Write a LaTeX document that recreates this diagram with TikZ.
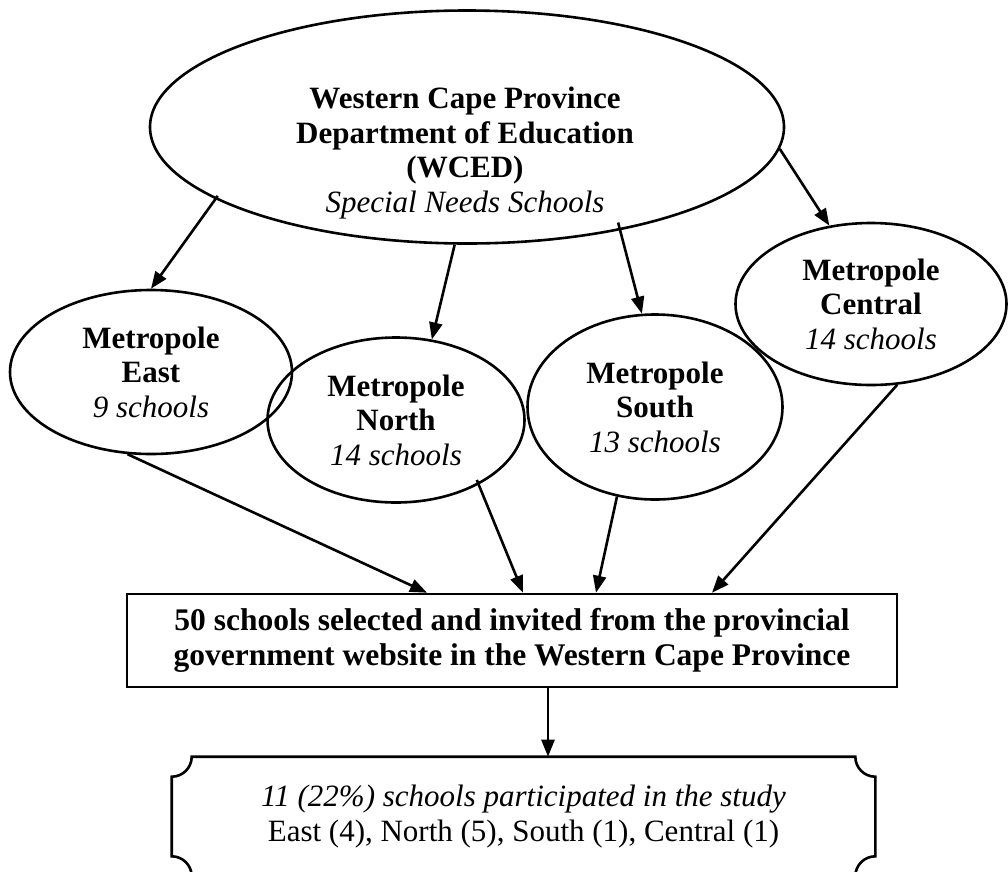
\documentclass[tikz,border=0pt]{standalone}
\usepackage{fontspec}
\setmainfont{Liberation Serif}
\usetikzlibrary{arrows.meta,shapes.geometric}

\begin{document}
\begin{tikzpicture}[x=1pt,y=-1pt,line width=2.6pt,>={Triangle[length=17pt,width=13pt]},
  font=\fontsize{31pt}{34.5pt}\selectfont,
  region/.style={draw,ellipse,align=center,inner sep=0pt},
  box/.style={draw,align=center,minimum width=770pt,minimum height=93pt,font=\fontsize{31.5pt}{35pt}\selectfont\bfseries}]
\useasboundingbox (0,0) rectangle (1008,871);
\node[region,minimum width=634pt,minimum height=233pt] (wced) at (467,127) {};
\node[align=center] (wcedtext) at (465,153) {\textbf{Western Cape Province}\\\textbf{Department of Education}\\\textbf{(WCED)}\\\textit{Special Needs Schools}};
\node[region,minimum width=282pt,minimum height=164pt] (east) at (151,372) {\textbf{Metropole}\\\textbf{East}\\\textit{9 schools}};
\node[region,minimum width=257pt,minimum height=165pt] (north) at (396,420) {\textbf{Metropole}\\\textbf{North}\\\textit{14 schools}};
\node[region,minimum width=255pt,minimum height=185pt] (south) at (655,407) {\textbf{Metropole}\\\textbf{South}\\\textit{13 schools}};
\node[region,minimum width=271pt,minimum height=162pt] (central) at (871,304) {\textbf{Metropole}\\\textbf{Central}\\\textit{14 schools}};
\node[box] (sel) at (512,640.5) {50 schools selected and invited from the provincial\\government website in the Western Cape Province};
\node[align=center,minimum width=701pt,minimum height=117pt] (part) at (523.5,816.5) {\textit{11 (22\%) schools participated in the study}\\East (4), North (5), South (1), Central (1)};
\draw ([xshift=20pt]part.north west) -- ([xshift=-20pt]part.north east) arc[start angle=180,end angle=270,radius=20pt]
  -- ([yshift=20pt]part.south east) arc[start angle=90,end angle=180,radius=20pt]
  -- ([xshift=20pt]part.south west) arc[start angle=0,end angle=90,radius=20pt]
  -- ([yshift=-20pt]part.north west) arc[start angle=270,end angle=360,radius=20pt] -- cycle;
\draw[->,shorten <=-4pt] (wced.196)--(east.north);
\draw[->] (wced.264)--(north.66);
\draw[->,shorten <=-8pt] (wced.326)--(south.98);
\draw[->] (wced.356)--(central.118);
\draw[->] (east.254)--([xshift=-85pt]sel.north);
\draw[->,shorten <=-5pt] (north.322)--([xshift=11pt]sel.north);
\draw[->] (south.247)--([xshift=84pt]sel.north);
\draw[->] (central.288)--([xshift=200pt]sel.north);
\draw[->] ([xshift=36pt]sel.south)--([xshift=36pt]sel.south |- part.north);
\end{tikzpicture}
\end{document}
